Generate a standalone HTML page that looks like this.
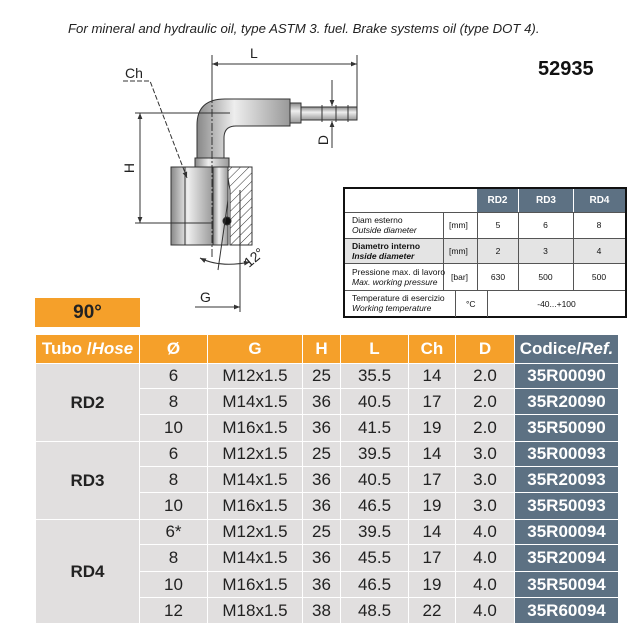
<!DOCTYPE html>
<html><head><meta charset="utf-8"><style>
body{margin:0;width:640px;height:640px;background:#fff;position:relative;overflow:hidden;font-family:"Liberation Sans",sans-serif}
.a{position:absolute}
.t{position:absolute;display:flex;align-items:center;justify-content:center;box-sizing:border-box}
.st div{position:absolute;box-sizing:border-box;font-size:8.5px;line-height:10px;color:#111}
</style></head><body>
<div class="a" style="left:68px;top:21px;font-size:13.2px;font-style:italic;color:#222">For mineral and hydraulic oil, type ASTM 3. fuel. Brake systems oil (type DOT 4).</div>
<div class="a" style="left:538px;top:58px;font-size:20px;font-weight:bold;color:#111">52935</div>

<svg class="a" style="left:0;top:0" width="370" height="330" viewBox="0 0 370 330">
<defs><marker id="ar" viewBox="0 0 10 10" refX="10" refY="5" markerWidth="8" markerHeight="6" orient="auto-start-reverse"><path d="M0,1 L10,5 L0,9z" fill="#333"/></marker>
<pattern id="h" width="6" height="6" patternUnits="userSpaceOnUse" patternTransform="rotate(45)"><line x1="0" y1="0" x2="0" y2="6" stroke="#333" stroke-width="1"/></pattern>
<linearGradient id="g" x1="0" x2="1"><stop offset="0" stop-color="#888"/><stop offset=".4" stop-color="#eee"/><stop offset="1" stop-color="#999"/></linearGradient>
<linearGradient id="gv" x1="0" y1="0" x2="0" y2="1"><stop offset="0" stop-color="#888"/><stop offset=".4" stop-color="#eee"/><stop offset="1" stop-color="#999"/></linearGradient></defs>
<g stroke="#333" stroke-width="1" fill="none">
<line x1="212" y1="55" x2="212" y2="100"/><line x1="357" y1="55" x2="357" y2="110"/>
<line x1="212" y1="64" x2="357" y2="64" marker-start="url(#ar)" marker-end="url(#ar)"/>
<path d="M197,158 L197,125 Q197,99 225,99 L290,99 L290,126 L236,126 Q224,126 224,138 L224,158Z" fill="url(#g)"/>
<rect x="290" y="103" width="11" height="20" fill="url(#gv)"/>
<path d="M301,107 L357,107 L357,120 L301,120Z" fill="url(#gv)"/>
<line x1="322" y1="105" x2="322" y2="122"/><line x1="336" y1="105" x2="336" y2="122"/><line x1="348" y1="105" x2="348" y2="122"/>
<rect x="195" y="158" width="34" height="9" fill="url(#g)"/>
<rect x="171" y="167" width="42" height="78" fill="url(#g)"/>
<line x1="185" y1="167" x2="185" y2="245"/>
<rect x="213" y="167" width="15" height="78" fill="url(#g)"/>
<path d="M228,167 L252,167 L252,245 L230,245 L230,190 L228,178Z" fill="url(#h)"/>
<circle cx="227" cy="221" r="4" fill="#111"/>
<line x1="135" y1="113" x2="230" y2="113"/><line x1="135" y1="223" x2="212" y2="223"/>
<line x1="140" y1="113" x2="140" y2="223" marker-start="url(#ar)" marker-end="url(#ar)"/>
<line x1="332" y1="80" x2="332" y2="106" marker-end="url(#ar)"/>
<line x1="332" y1="148" x2="332" y2="121" marker-end="url(#ar)"/>
<polyline points="123,81 150,81 187,178" marker-end="url(#ar)" stroke-dasharray="5,2"/>
<line x1="212" y1="95" x2="212" y2="258" stroke-dasharray="8,2,2,2"/>
<line x1="240" y1="190" x2="240" y2="312"/>
<line x1="228" y1="200" x2="218" y2="270"/>
<path d="M200,258 Q220,268 250,262" marker-start="url(#ar)" marker-end="url(#ar)"/>
<line x1="195" y1="307" x2="240" y2="307" marker-end="url(#ar)"/>
</g>
<g font-family="Liberation Sans" font-size="14" fill="#222">
<text x="125" y="78">Ch</text><text x="250" y="58">L</text>
<text x="134" y="168" transform="rotate(-90 134 168)" text-anchor="middle">H</text>
<text x="328" y="140" transform="rotate(-90 328 140)" text-anchor="middle">D</text>
<text x="249" y="268" transform="rotate(-40 249 268)">12°</text>
<text x="200" y="302">G</text></g>
</svg>

<div class="st">
<div style="left:343px;top:187px;width:284px;height:131px;border:2px solid #111"></div>
<div style="left:477px;top:189px;width:41px;height:23px;background:#5d7183;color:#fff;font-weight:bold;font-size:10px;text-align:center;line-height:23px">RD2</div>
<div style="left:519px;top:189px;width:54px;height:23px;background:#5d7183;color:#fff;font-weight:bold;font-size:10px;text-align:center;line-height:23px">RD3</div>
<div style="left:574px;top:189px;width:51px;height:23px;background:#5d7183;color:#fff;font-weight:bold;font-size:10px;text-align:center;line-height:23px">RD4</div>
<div style="left:345px;top:212px;width:280px;height:1px;background:#555"></div>
<div style="left:345px;top:238px;width:280px;height:26px;background:#e4e4e4;border-top:1px solid #555;border-bottom:1px solid #555"></div>
<div style="left:345px;top:290px;width:280px;height:1px;background:#555"></div>
<div style="left:443px;top:212px;width:1px;height:78px;background:#555"></div>
<div style="left:477px;top:212px;width:1px;height:78px;background:#555"></div>
<div style="left:518px;top:212px;width:1px;height:78px;background:#555"></div>
<div style="left:573px;top:212px;width:1px;height:78px;background:#555"></div>
<div style="left:455px;top:290px;width:1px;height:27px;background:#555"></div>
<div style="left:487px;top:290px;width:1px;height:27px;background:#555"></div>
<div style="left:352px;top:215px">Diam esterno<br><i>Outside diameter</i></div>
<div style="left:352px;top:241px;font-weight:bold">Diametro interno<br><i>Inside diameter</i></div>
<div style="left:352px;top:267px">Pressione max. di lavoro<br><i>Max. working pressure</i></div>
<div style="left:352px;top:293px">Temperature di esercizio<br><i>Working temperature</i></div>
<div style="left:449px;top:220px">[mm]</div><div style="left:449px;top:246px">[mm]</div><div style="left:451px;top:272px">[bar]</div>
<div style="left:466px;top:299px">°C</div>
<div style="left:478px;top:220px;width:40px;text-align:center">5</div><div style="left:518px;top:220px;width:55px;text-align:center">6</div><div style="left:573px;top:220px;width:52px;text-align:center">8</div>
<div style="left:478px;top:246px;width:40px;text-align:center">2</div><div style="left:518px;top:246px;width:55px;text-align:center">3</div><div style="left:573px;top:246px;width:52px;text-align:center">4</div>
<div style="left:478px;top:272px;width:40px;text-align:center">630</div><div style="left:518px;top:272px;width:55px;text-align:center">500</div><div style="left:573px;top:272px;width:52px;text-align:center">500</div>
<div style="left:488px;top:299px;width:137px;text-align:center">-40...+100</div>
</div>

<div class="t" style="left:35px;top:298px;width:105px;height:29px;background:#f5a02a;font-size:19px;font-weight:bold;color:#222">90°</div>

<div id="main"></div>
<script>
const cols=[36,140,208,303,341,409,456,515,618];
const hdr=['Tubo / <i>Hose</i>','Ø','G','H','L','Ch','D','Codice/<i>Ref.</i>'];
let h='';
function cell(x1,x2,y1,y2,bg,c,txt,b){h+=`<div class="t" style="left:${x1}px;top:${y1}px;width:${x2-x1-1}px;height:${y2-y1-1}px;background:${bg};color:${c};font-size:17px;${b?'font-weight:bold;':''}">${txt}</div>`;}
for(let i=0;i<8;i++)cell(cols[i],cols[i+1]+(i==7?1:0),335,364,i==7?'#5d7183':'#f5a02a','#fff',hdr[i],1);
const rows=[['6','M12x1.5','25','35.5','14','2.0','35R00090'],['8','M14x1.5','36','40.5','17','2.0','35R20090'],['10','M16x1.5','36','41.5','19','2.0','35R50090'],
['6','M12x1.5','25','39.5','14','3.0','35R00093'],['8','M14x1.5','36','40.5','17','3.0','35R20093'],['10','M16x1.5','36','46.5','19','3.0','35R50093'],
['6*','M12x1.5','25','39.5','14','4.0','35R00094'],['8','M14x1.5','36','45.5','17','4.0','35R20094'],['10','M16x1.5','36','46.5','19','4.0','35R50094'],['12','M18x1.5','38','48.5','22','4.0','35R60094']];
const ys=[364,389,415,442,467,493,520,545,572,598,624];
rows.forEach((r,k)=>{for(let i=0;i<7;i++)cell(cols[i+1],cols[i+2]+(i==6?1:0),ys[k],ys[k+1],i==6?'#5d7183':'#e1dfdf',i==6?'#fff':'#222',r[i],i==6);});
[['RD2',364,442],['RD3',442,520],['RD4',520,624]].forEach(g=>cell(cols[0],cols[1],g[1],g[2],'#e1dfdf','#222',g[0],1));
document.getElementById('main').innerHTML=h;
</script>
</body></html>
